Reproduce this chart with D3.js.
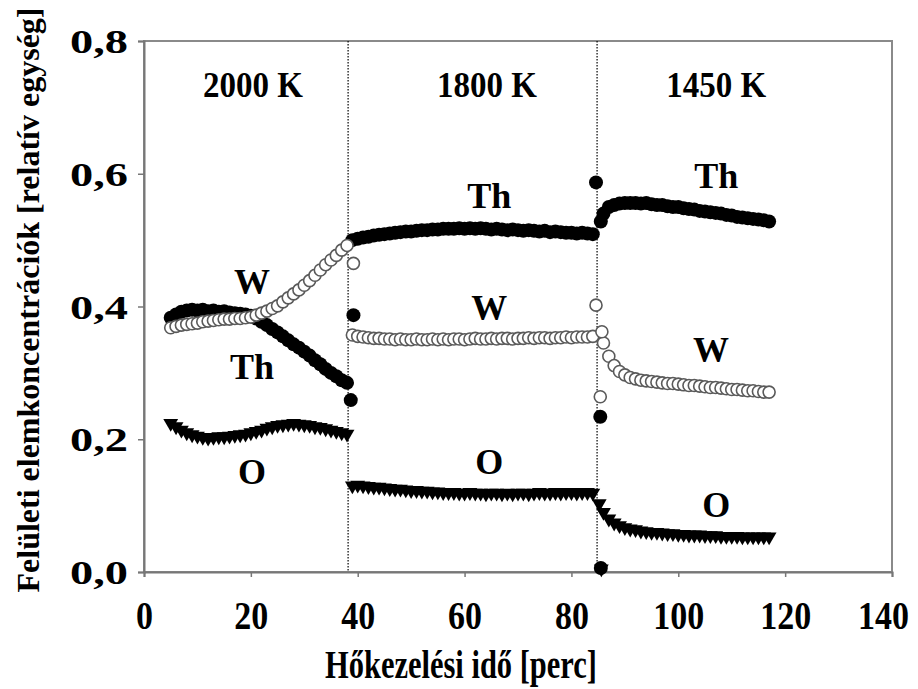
<!DOCTYPE html>
<html>
<head>
<meta charset="utf-8">
<script src="https://cdn.jsdelivr.net/npm/d3@7"></script>
<style>
  body { margin: 0; background: #fff; }
  text { font-family: "Liberation Serif", "Times New Roman", serif; font-weight: bold; fill: #000; }
</style>
</head>
<body>
<svg id="chart" width="918" height="689"></svg>
<script>
// time [perc] for each annealing stage
var t2000 = [5,6,7,8,9,10,11,12,13,14,15,16,17,18,19,20,21,22,23,24,25,26,27,28,29,30,31,32,33,34,35,36,37,38];
var t1800 = [39,40,41,42,43,44,45,46,47,48,49,50,51,52,53,54,55,56,57,58,59,60,61,62,63,64,65,66,67,68,69,70,71,72,73,74,75,76,77,78,79,80,81,82,83,84];
var t1450 = [86,87,88,89,90,91,92,93,94,95,96,97,98,99,100,101,102,103,104,105,106,107,108,109,110,111,112,113,114,115,116,117];

var th2000 = [0.383,0.388,0.392,0.394,0.395,0.394,0.395,0.393,0.394,0.392,0.393,0.391,0.390,0.389,0.388,0.386,0.382,0.377,0.372,0.366,0.361,0.355,0.349,0.343,0.338,0.332,0.326,0.319,0.313,0.306,0.300,0.295,0.289,0.285];
var w2000 = [0.368,0.370,0.372,0.373,0.374,0.375,0.377,0.378,0.379,0.380,0.381,0.381,0.382,0.382,0.383,0.384,0.387,0.390,0.393,0.397,0.401,0.407,0.413,0.419,0.425,0.432,0.439,0.447,0.455,0.463,0.470,0.477,0.485,0.492];
var o2000 = [0.224,0.219,0.214,0.210,0.207,0.205,0.203,0.202,0.203,0.204,0.204,0.205,0.206,0.207,0.208,0.210,0.212,0.214,0.217,0.219,0.221,0.222,0.223,0.224,0.223,0.222,0.221,0.219,0.218,0.216,0.214,0.212,0.210,0.208];

var th1800 = [0.500,0.502,0.504,0.505,0.507,0.508,0.509,0.510,0.511,0.512,0.513,0.513,0.514,0.515,0.515,0.516,0.516,0.517,0.517,0.517,0.518,0.517,0.518,0.517,0.518,0.517,0.516,0.517,0.516,0.515,0.516,0.515,0.514,0.515,0.514,0.513,0.514,0.512,0.513,0.512,0.511,0.511,0.510,0.511,0.510,0.509];
var w1800 = [0.357,0.355,0.354,0.353,0.352,0.352,0.351,0.351,0.350,0.351,0.350,0.350,0.351,0.350,0.350,0.351,0.350,0.351,0.350,0.351,0.351,0.350,0.351,0.352,0.351,0.351,0.352,0.351,0.352,0.352,0.351,0.352,0.352,0.353,0.352,0.353,0.353,0.352,0.353,0.353,0.354,0.353,0.354,0.354,0.354,0.355];
var o1800 = [0.130,0.131,0.130,0.129,0.128,0.128,0.127,0.126,0.125,0.125,0.124,0.123,0.123,0.122,0.122,0.121,0.121,0.120,0.120,0.120,0.119,0.119,0.120,0.119,0.119,0.118,0.119,0.119,0.118,0.119,0.118,0.119,0.119,0.118,0.119,0.120,0.119,0.119,0.120,0.119,0.120,0.120,0.119,0.120,0.120,0.119];

var th1450 = [0.540,0.550,0.553,0.555,0.556,0.556,0.556,0.555,0.556,0.554,0.553,0.553,0.551,0.550,0.550,0.548,0.547,0.546,0.544,0.543,0.542,0.541,0.540,0.538,0.537,0.535,0.534,0.533,0.532,0.531,0.530,0.528];
var w1450 = [0.345,0.325,0.311,0.302,0.297,0.293,0.291,0.289,0.288,0.287,0.286,0.285,0.284,0.284,0.283,0.282,0.281,0.281,0.280,0.279,0.278,0.278,0.277,0.276,0.275,0.275,0.274,0.273,0.273,0.272,0.271,0.271];
var o1450 = [0.090,0.080,0.074,0.070,0.067,0.065,0.064,0.062,0.061,0.060,0.060,0.059,0.058,0.058,0.057,0.057,0.056,0.056,0.056,0.055,0.055,0.055,0.054,0.054,0.054,0.054,0.053,0.053,0.053,0.053,0.053,0.053];

// single points measured right at the temperature switch
var thJumpT = [38.7, 39.2, 84.6, 85.4, 85.5, 85.5];
var thJumpV = [0.259, 0.387, 0.587, 0.234, 0.006, 0.528];
var wJumpT = [39.2, 84.6, 85.4, 85.7];
var wJumpV = [0.465, 0.402, 0.264, 0.362];
var oJumpT = [85.2, 85.6];
var oJumpV = [0.103, 0.005];

var switchTimes = [38.2, 84.8];
var xTicks = [0, 20, 40, 60, 80, 100, 120, 140];
var yTicks = [0, 0.2, 0.4, 0.6, 0.8];

var notes = [
  {text: "2000 K", t: 20.4, v: 0.734},
  {text: "1800 K", t: 64.2, v: 0.734},
  {text: "1450 K", t: 107.1, v: 0.734},
  {text: "W", t: 20.2, v: 0.438},
  {text: "Th", t: 20.2, v: 0.310},
  {text: "O", t: 20.2, v: 0.152},
  {text: "Th", t: 64.6, v: 0.568},
  {text: "W", t: 64.6, v: 0.398},
  {text: "O", t: 64.6, v: 0.167},
  {text: "Th", t: 107.1, v: 0.597},
  {text: "W", t: 106.1, v: 0.336},
  {text: "O", t: 107.1, v: 0.102}
];

function pts(ts, vs) {
  return ts.map(function (t, i) { return {t: t, v: vs[i]}; });
}

var thData = pts(t2000, th2000).concat(pts(t1800, th1800), pts(t1450, th1450), pts(thJumpT, thJumpV));
var wData = pts(t2000, w2000).concat(pts(t1800, w1800), pts(t1450, w1450), pts(wJumpT, wJumpV));
var oData = pts(t2000, o2000).concat(pts(t1800, o1800), pts(t1450, o1450), pts(oJumpT, oJumpV));

var svg = d3.select("#chart");
var x = d3.scaleLinear().domain([0, 140]).range([144, 892]);
var y = d3.scaleLinear().domain([0, 0.8]).range([572, 41]);

var fmt = function (d) { return d3.format(".1f")(d).replace(".", ","); };

// frame
svg.append("rect")
    .attr("x", x(0)).attr("y", y(0.8))
    .attr("width", x(140) - x(0)).attr("height", y(0) - y(0.8))
    .attr("fill", "none").attr("stroke", "#8a8a8a").attr("stroke-width", 2);

// y axis
var yAxis = svg.append("g")
    .attr("transform", "translate(" + x(0) + ",0)")
    .call(d3.axisLeft(y).tickValues(yTicks).tickSize(6).tickFormat(fmt));
yAxis.attr("font-family", null).attr("font-size", null);
yAxis.select(".domain").attr("stroke", "#777").attr("stroke-width", 2);
yAxis.selectAll(".tick line").attr("stroke", "#777").attr("stroke-width", 1.5);
yAxis.selectAll(".tick text")
    .attr("x", -16)
    .attr("dy", "0.34em")
    .attr("textLength", 58)
    .attr("lengthAdjust", "spacingAndGlyphs")
    .style("font-size", "34px");

// x axis
var xAxis = svg.append("g")
    .attr("transform", "translate(0," + y(0) + ")")
    .call(d3.axisBottom(x).tickValues(xTicks).tickSize(5).tickPadding(24));
xAxis.attr("font-family", null).attr("font-size", null);
xAxis.select(".domain").attr("stroke", "#777").attr("stroke-width", 2);
xAxis.selectAll(".tick line").attr("stroke", "#777").attr("stroke-width", 1.5);
xAxis.selectAll(".tick text")
    .attr("dy", "0.71em")
    .attr("dx", function (d) { return d === 140 ? -9 : 0; })
    .attr("textLength", function (d) { return String(d).length * 17; })
    .attr("lengthAdjust", "spacingAndGlyphs")
    .style("font-size", "40px");

// stage boundaries
svg.append("g").selectAll("line").data(switchTimes).enter().append("line")
    .attr("x1", function (d) { return x(d); })
    .attr("x2", function (d) { return x(d); })
    .attr("y1", y(0.8)).attr("y2", y(0))
    .attr("stroke", "#000").attr("stroke-width", 1.2)
    .attr("stroke-dasharray", "1.5,1.5");

// Th: filled circles
svg.append("g").selectAll("circle").data(thData).enter().append("circle")
    .attr("cx", function (d) { return x(d.t); })
    .attr("cy", function (d) { return y(d.v); })
    .attr("r", 7)
    .attr("fill", "#000");

// O: filled triangles
var tri = d3.symbol().type(d3.symbolTriangle).size(95);
svg.append("g").selectAll("path").data(oData).enter().append("path")
    .attr("d", tri)
    .attr("transform", function (d) { return "translate(" + x(d.t) + "," + y(d.v) + ") rotate(180)"; })
    .attr("fill", "#000");

// W: open circles
svg.append("g").selectAll("circle").data(wData).enter().append("circle")
    .attr("cx", function (d) { return x(d.t); })
    .attr("cy", function (d) { return y(d.v); })
    .attr("r", 6)
    .attr("fill", "#fff")
    .attr("stroke", "#5a5a5a")
    .attr("stroke-width", 1.6);

// labels in the plot
svg.append("g").selectAll("text").data(notes).enter().append("text")
    .attr("x", function (d) { return x(d.t); })
    .attr("y", function (d) { return y(d.v); })
    .attr("dy", "0.35em")
    .attr("text-anchor", "middle")
    .style("font-size", "36px")
    .each(function (d) {
      if (d.text.length > 2) d3.select(this).attr("textLength", 100).attr("lengthAdjust", "spacingAndGlyphs");
    })
    .text(function (d) { return d.text; });

// axis titles
svg.append("text")
    .attr("x", 461).attr("y", 678)
    .attr("text-anchor", "middle")
    .attr("textLength", 272)
    .attr("lengthAdjust", "spacingAndGlyphs")
    .style("font-size", "40px")
    .text("Hőkezelési idő [perc]");

svg.append("text")
    .attr("transform", "translate(39,300) rotate(-90)")
    .attr("text-anchor", "middle")
    .style("font-size", "32px")
    .text("Felületi elemkoncentrációk [relatív egység]");
</script>
</body>
</html>
